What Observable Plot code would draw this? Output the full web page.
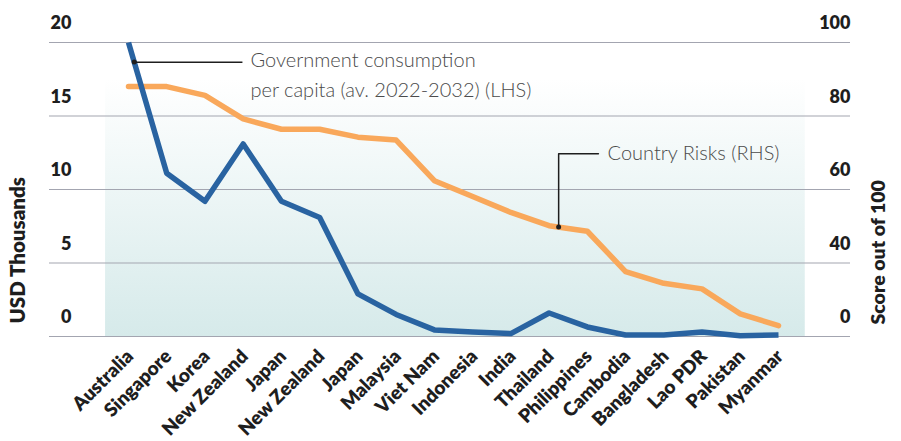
<!DOCTYPE html>
<html>
<head>
<meta charset="utf-8">
<script src="https://cdn.jsdelivr.net/npm/d3@7"></script>
<script src="https://cdn.jsdelivr.net/npm/@observablehq/plot@0.6"></script>
<style>
  html, body { margin: 0; padding: 0; background: #ffffff; }
  #chart svg { display: block; }
</style>
</head>
<body>
<div id="chart"></div>
<script>
// ---- Data ----
const countries = ["Australia", "Singapore", "Korea", "New Zealand", "Japan", "New Zealand", "Japan", "Malaysia", "Viet Nam", "Indonesia", "India", "Thailand", "Philippines", "Cambodia", "Bangladesh", "Lao PDR", "Pakistan", "Myanmar"];
// Government consumption per capita, USD thousands (LHS)
const govConsumption = [20, 11.1, 9.2, 13.1, 9.2, 8.1, 2.9, 1.5, 0.45, 0.3, 0.2, 1.6, 0.65, 0.1, 0.1, 0.3, 0.05, 0.1];
// Country risks score out of 100 (RHS)
const countryRisk = [85, 85, 82, 74, 70.5, 70.5, 67.8, 66.8, 53, 47.6, 42.2, 37.7, 35.8, 22.1, 18.1, 16.2, 7.7, 3.7];
const leftTicks = [0, 5, 10, 15, 20];
const rightTicks = [0, 25, 50, 75, 100];
const rightTickLabels = ["0", "40", "60", "80", "100"];
const govLabel = "Government consumption\nper capita (av. 2022-2032) (LHS)";
const riskLabel = "Country Risks (RHS)";

// ---- Helpers ----
const rhsToLhs = v => v / 5; // 100 on RHS aligns with 20 on LHS
const interp = (arr, t) => { const i = Math.floor(t), f = t - i; return arr[i] + (arr[i + 1] - arr[i]) * f; };

const govData = govConsumption.map((v, i) => ({i, v}));
const riskData = countryRisk.map((v, i) => ({i, v: rhsToLhs(v)}));

// annotation anchors (index positions along series)
const govDotI = 0.15, govDotV = interp(govConsumption, govDotI);
const riskDotI = 11.25, riskDotV = rhsToLhs(interp(countryRisk, riskDotI));
const riskElbowV = rhsToLhs(62.2);

const FONT = "Lato, 'Noto Sans', sans-serif";
const INK = "#1e1e1e";

const chart = Plot.plot({
  width: 901,
  height: 441,
  marginTop: 42,
  marginBottom: 105,
  marginLeft: 49,
  marginRight: 51,
  style: {fontFamily: FONT, background: "#ffffff", overflow: "visible"},
  x: {domain: [-2.066, 18.883], axis: null},
  y: {domain: [0, 20], axis: null},
  marks: [
    // background gradient panel
    Plot.rect([{x1: -0.6, x2: 17.7, y1: 0, y2: 17.5}], {x1: "x1", x2: "x2", y1: "y1", y2: "y2", fill: "url(#bgGrad)"}),
    // gridlines
    Plot.ruleY(leftTicks, {stroke: "#a3a5b0", strokeWidth: 1.2}),
    // left tick labels
    Plot.text(leftTicks, {y: d => d, text: d => String(d), frameAnchor: "left", textAnchor: "end", dx: 22, dy: -19, fontSize: 18, fontWeight: 800, fill: INK}),
    // right tick labels
    Plot.text(rightTicks, {y: d => rhsToLhs(d), text: (d, i) => rightTickLabels[i], frameAnchor: "right", textAnchor: "end", dy: -19, fontSize: 18, fontWeight: 800, fill: INK}),
    // axis titles
    Plot.text(["USD Thousands"], {frameAnchor: "bottom-left", rotate: -90, textAnchor: "start", dx: -25, dy: -13, fontSize: 20.5, fontWeight: 800, fill: INK}),
    Plot.text(["Score out of 100"], {frameAnchor: "bottom-right", rotate: -90, textAnchor: "start", dx: 34, dy: -12, fontSize: 19.5, fontWeight: 800, fill: INK}),
    // x labels
    Plot.text(countries, {x: (d, i) => i, text: d => d, frameAnchor: "bottom", rotate: -45, textAnchor: "end", dx: 6, dy: 21, fontSize: 19, fontWeight: 800, fill: INK}),
    // series
    Plot.line(riskData, {x: "i", y: "v", stroke: "#f9a85b", strokeWidth: 5.5, strokeLinecap: "round", strokeLinejoin: "round"}),
    Plot.line(govData, {x: "i", y: "v", stroke: "#2963a1", strokeWidth: 5.5, strokeLinecap: "butt", strokeLinejoin: "round"}),
    // annotation: government consumption
    Plot.link([{x1: govDotI, x2: 2.98, y: govDotV}], {x1: "x1", x2: "x2", y1: "y", y2: "y", stroke: INK, strokeWidth: 1.5}),
    Plot.dot([{x: govDotI, y: govDotV}], {x: "x", y: "y", r: 2.5, fill: INK}),
    Plot.text([govLabel], {x: 3.19, y: govDotV, text: d => d, textAnchor: "start", lineAnchor: "top", dy: -16, lineHeight: 1.5, fontSize: 20, fontWeight: 300, fill: "#4a4a4a"}),
    // annotation: country risks
    Plot.line([{x: riskDotI, y: riskDotV}, {x: riskDotI, y: riskElbowV}, {x: 12.29, y: riskElbowV}], {x: "x", y: "y", stroke: INK, strokeWidth: 1.5}),
    Plot.dot([{x: riskDotI, y: riskDotV}], {x: "x", y: "y", r: 2.5, fill: INK}),
    Plot.text([riskLabel], {x: 12.53, y: riskElbowV, text: d => d, textAnchor: "start", lineAnchor: "middle", fontSize: 20, fontWeight: 300, fill: "#4a4a4a"})
  ]
});

// gradient definition
const defs = d3.select(chart).insert("defs", ":first-child");
const grad = defs.append("linearGradient").attr("id", "bgGrad").attr("x1", 0).attr("y1", 0).attr("x2", 0).attr("y2", 1);
grad.append("stop").attr("offset", "0%").attr("stop-color", "#ffffff");
grad.append("stop").attr("offset", "100%").attr("stop-color", "#d6eaea");

document.getElementById("chart").appendChild(chart);
</script>
</body>
</html>
